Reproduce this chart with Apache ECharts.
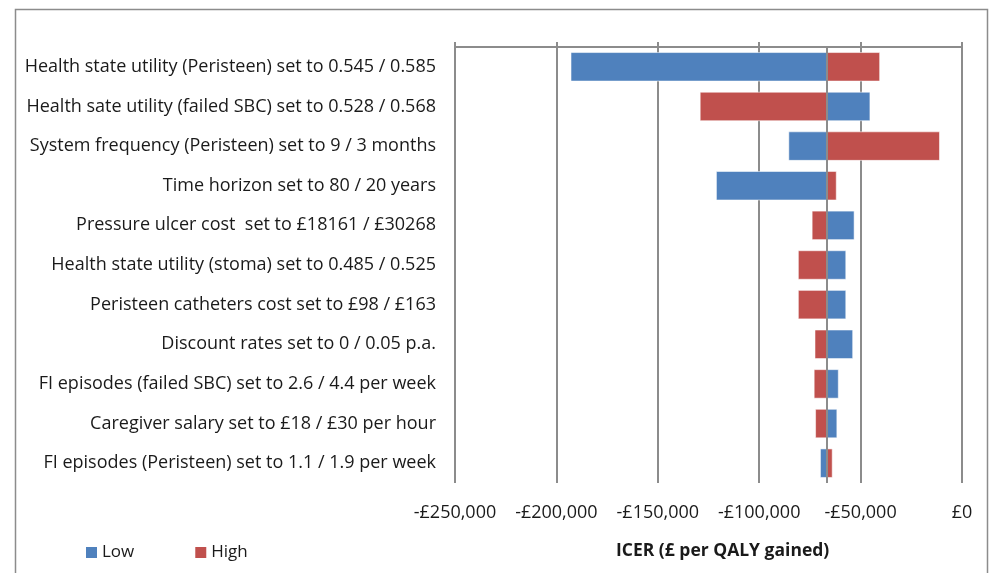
<!DOCTYPE html>
<html>
<head>
<meta charset="utf-8">
<script src="https://cdn.jsdelivr.net/npm/echarts@6/dist/echarts.min.js"></script>
<style>
  html, body { margin: 0; padding: 0; background: #fff; }
  #main { width: 989px; height: 573px; }
</style>
</head>
<body>
<div id="main"></div>
<script>
// tornado data, ICER in £ per QALY gained
var categories = [
  'Health state utility (Peristeen) set to 0.545 / 0.585',
  'Health sate utility (failed SBC) set to 0.528 / 0.568',
  'System frequency (Peristeen) set to 9 / 3 months',
  'Time horizon set to 80 / 20 years',
  'Pressure ulcer cost  set to £18161 / £30268',
  'Health state utility (stoma) set to 0.485 / 0.525',
  'Peristeen catheters cost set to £98 / £163',
  'Discount rates set to 0 / 0.05 p.a.',
  'FI episodes (failed SBC) set to 2.6 / 4.4 per week',
  'Caregiver salary set to £18 / £30 per hour',
  'FI episodes (Peristeen) set to 1.1 / 1.9 per week'
];
var lowValues = [-192800, -45400, -85400, -121100, -53200, -57300, -57300, -53900, -61000, -61700, -69800];
var highValues = [-40600, -129100, -11100, -62000, -73900, -80700, -80700, -72500, -72900, -72200, -64000];
var baseValue = -66700;
var axisMin = -250000;
var axisMax = 0;
var axisStep = 50000;

var chartDom = document.getElementById('main');
var myChart = echarts.init(chartDom);

var font = '"Open Sans", "Noto Sans", sans-serif';
var fontSize = 18;
var gridGray = '#8c8c8c';

function renderBar(params, api) {
  var start = api.coord([baseValue, api.value(1)]);
  var end = api.coord([api.value(0), api.value(1)]);
  var h = api.size([0, 1])[1] * 0.72;
  var x = Math.min(start[0], end[0]);
  var w = Math.abs(end[0] - start[0]);
  return {
    type: 'rect',
    shape: { x: x, y: start[1] - h / 2, width: w, height: h },
    style: Object.assign(api.style(), { stroke: 'rgba(255,255,255,0.55)', lineWidth: 1 })
  };
}

function money(v) {
  if (v === 0) return '£0';
  return '-£' + Math.abs(v).toLocaleString('en-GB');
}

var option = {
  animation: false,
  textStyle: { fontFamily: font },
  grid: { left: 455, right: 27, top: 47, bottom: 90 },
  legend: {
    left: 81,
    top: 539,
    itemWidth: 11,
    itemHeight: 11,
    itemGap: 61,
    itemTextGap: 5,
    icon: 'rect',
    textStyle: { fontSize: 17, color: '#1a1a1a', fontFamily: font },
    data: ['Low', 'High']
  },
  xAxis: [
    {
      type: 'value',
      position: 'top',
      min: axisMin,
      max: axisMax,
      interval: axisStep,
      axisLine: { show: true, lineStyle: { color: gridGray, width: 2 } },
      axisTick: { show: true, inside: false, length: 5, lineStyle: { color: gridGray, width: 2 } },
      axisLabel: { show: false },
      splitLine: { show: true, lineStyle: { color: gridGray, width: 2 } }
    },
    {
      type: 'value',
      position: 'bottom',
      min: axisMin,
      max: axisMax,
      interval: axisStep,
      axisLine: { show: false },
      axisTick: { show: false },
      axisLabel: { show: true, margin: 21, fontSize: fontSize, color: '#1a1a1a', fontFamily: font, formatter: money },
      splitLine: { show: false }
    }
  ],
  yAxis: {
    type: 'category',
    inverse: true,
    data: categories,
    axisLine: { show: false },
    axisTick: { show: false },
    axisLabel: { margin: 19, fontSize: fontSize, color: '#1a1a1a', fontFamily: font, padding: [3, 0, 0, 0] }
  },
  graphic: [
    {
      type: 'rect',
      left: 13,
      top: 7,
      shape: { width: 972, height: 620 },
      style: { fill: 'none', stroke: '#8c8c8c', lineWidth: 1.5 },
      silent: true
    },
    {
      type: 'text',
      left: 616,
      top: 542,
      style: { text: 'ICER (£ per QALY gained)', fontSize: 17.5, fontWeight: 'bold', fill: '#1a1a1a', fontFamily: font }
    }
  ],
  series: [
    {
      name: 'Low',
      type: 'custom',
      renderItem: renderBar,
      itemStyle: { color: '#4F81BD' },
      encode: { x: 0, y: 1 },
      data: lowValues.map(function (v, i) { return [v, i]; }),
      z: 2
    },
    {
      name: 'High',
      type: 'custom',
      renderItem: renderBar,
      itemStyle: { color: '#C0504D' },
      encode: { x: 0, y: 1 },
      data: highValues.map(function (v, i) { return [v, i]; }),
      z: 2,
      markLine: {
        silent: true,
        symbol: 'none',
        label: { show: false },
        lineStyle: { color: gridGray, width: 2, type: 'solid' },
        data: [{ xAxis: baseValue }],
        z: 5
      }
    }
  ]
};

myChart.setOption(option);
</script>
</body>
</html>
